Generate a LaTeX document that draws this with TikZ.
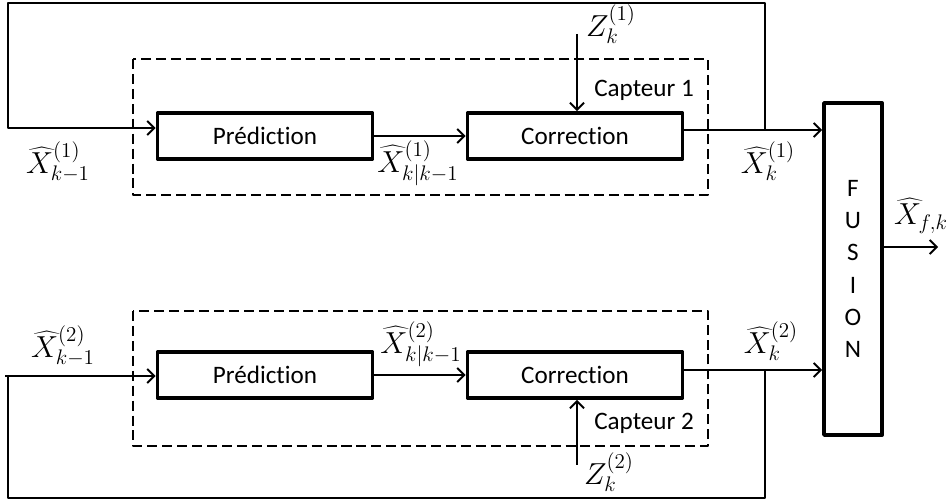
\documentclass[tikz,border=0pt]{standalone}
\usepackage{fontspec}
\setmainfont{Carlito}[RawFeature=-liga]
\DeclareMathSizes{16}{16}{12.5}{10}
\usetikzlibrary{arrows.meta}
\begin{document}
\begin{tikzpicture}[x=0.02cm, y=-0.02cm, font=\fontsize{14.3}{17}\selectfont, line join=round,
		>={Straight Barb[length=4pt,width=8pt]},
		bloc/.style={draw, line width=2.2pt, minimum width=4.3cm, minimum height=0.92cm, inner sep=0pt},
		fleche/.style={line width=1.1pt, ->},
		ligne/.style={line width=1.1pt},
		cadre/.style={line width=1.1pt, dash pattern=on 5.7pt off 2.8pt},
		etiq/.style={font=\fontsize{16}{19}\selectfont, inner sep=0pt}]
	\useasboundingbox (0,0) rectangle (949,502);
	% blocs des deux capteurs
	\node[bloc] (pred1) at (265,136) {Prédiction};
	\node[bloc] (corr1) at (575,136) {Correction};
	\node[bloc] (pred2) at (265,375) {Prédiction};
	\node[bloc] (corr2) at (575,375) {Correction};
	\node[draw, line width=2.2pt, minimum width=1.16cm, minimum height=6.64cm, align=center,
		font=\fontsize{14.3}{18.4}\selectfont] (fus) at (853,269) {F\\U\\S\\I\\O\\N};
	% cadres en pointilles
	\draw[cadre] (133,59) rectangle (708,195);
	\draw[cadre] (133,311) rectangle (708,446);
	\node[anchor=east] (cap1) at (700,90) {Capteur 1};
	\node[anchor=east] (cap2) at (700,423) {Capteur 2};
	% mesures
	\node[etiq] (z1) at (611,24) {$Z_k^{(1)}$};
	\node[etiq] (z2) at (609,472) {$Z_k^{(2)}$};
	\coordinate (z1s) at (577,34);
	\coordinate (z2s) at (577,465);
	\draw[fleche] (z1s) -- (z1s |- corr1.north);
	\draw[fleche] (z2s) -- (z2s |- corr2.south);
	% capteur 1
	\coordinate (j1) at (765,130);
	\coordinate (g1) at (8,128);
	\draw[fleche] (pred1) -- (corr1);
	\draw[fleche] (corr1.east |- j1) -- (fus.west |- j1);
	\draw[fleche] (j1) -- ++(0,-127) -| (g1) -- (pred1.west |- g1);
	\node[etiq] (xa1) at (58,162) {$\widehat{X}_{k-1}^{(1)}$};
	\node[etiq] (xp1) at (418,163) {$\widehat{X}_{k|k-1}^{(1)}$};
	\node[etiq] (xc1) at (768,161) {$\widehat{X}_{k}^{(1)}$};
	% capteur 2
	\coordinate (j2) at (765,370);
	\coordinate (g2) at (8,376);
	\draw[fleche] (pred2) -- (corr2);
	\draw[fleche] (corr2.east |- j2) -- (fus.west |- j2);
	\draw[fleche] (j2) -- ++(0,128) -| (g2) -- (pred2.west |- g2);
	\draw[ligne] (g2) -- ++(-3,0);
	\node[etiq] (xa2) at (63,346) {$\widehat{X}_{k-1}^{(2)}$};
	\node[etiq] (xp2) at (421,344) {$\widehat{X}_{k|k-1}^{(2)}$};
	\node[etiq] (xc2) at (771,341) {$\widehat{X}_{k}^{(2)}$};
	% sortie
	\coordinate (s) at (938,247);
	\draw[fleche] (fus.east |- s) -- (s);
	\node[etiq] (xf) at (921,216) {$\widehat{X}_{f,k}$};
\end{tikzpicture}
\end{document}
